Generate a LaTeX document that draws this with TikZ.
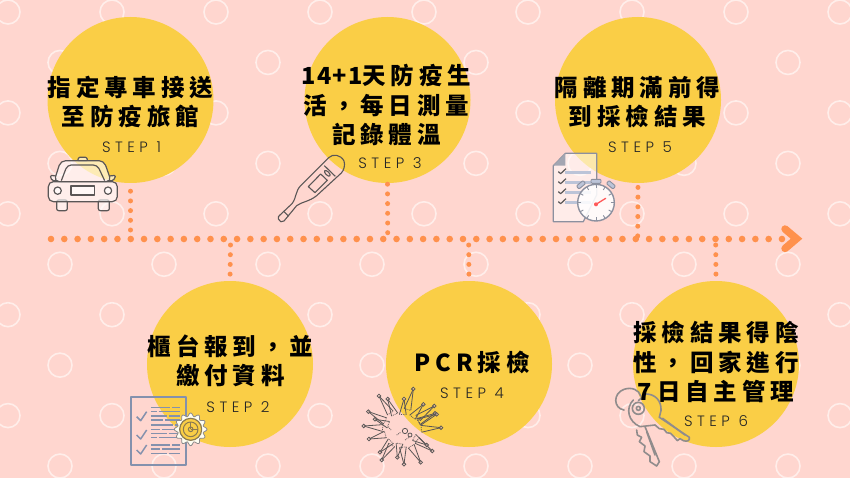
\documentclass[tikz,border=0pt]{standalone}
\usepackage{fontspec}
\usetikzlibrary{calc}
\newfontfamily\cjk[LetterSpace=21]{Noto Sans CJK TC Black}
\newfontfamily\cjkl[LetterSpace=5]{Noto Sans CJK TC Black}
\newfontfamily\stepf[LetterSpace=30]{Poppins Light}
\definecolor{bgc}{HTML}{FFD6CF}
\definecolor{ringc}{HTML}{FFEEEA}
\definecolor{yel}{HTML}{FACE46}
\definecolor{org}{HTML}{FF914D}
\definecolor{ink}{HTML}{5A5656}
\definecolor{slate}{HTML}{8491AD}
\definecolor{steel}{HTML}{8C909F}
\definecolor{barc}{HTML}{BCC4D8}
\definecolor{keyc}{HTML}{908C8C}
\tikzset{
 x=1pt,y=-1pt,
 ring/.style={draw=ringc,line width=1.6pt},
 disc/.style={circle,fill=yel,minimum size=166pt,inner sep=0pt},
 htl/.style={org,line width=6.6pt,line cap=round,dash pattern=on 0pt off 13.29pt},
 vtl/.style={org,line width=5pt,line cap=round,dash pattern=on 0pt off 9.7pt},
 title/.style={font=\cjk\fontsize{23.5pt}{29.2pt}\selectfont,align=center,inner sep=0pt,text=black},
 steplab/.style={font=\stepf\fontsize{15pt}{17pt}\selectfont,inner sep=0pt,text=black!85},
 zoomed/.style={shift={#1},x=0.3333pt,y=-0.3333pt},
 glass/.style={fill=white,fill opacity=.6},
}
\begin{document}
\begin{tikzpicture}
\useasboundingbox (0,0) rectangle (850,478);
\fill[bgc] (0,0) rectangle (850,478);
% background rings
\foreach \r in {0,2,4,6,8}{\foreach \c in {0,...,8}{\draw[ring] ({8+104*\c},{12+50.45*\r}) circle (12);}}
\foreach \r in {1,3,5,7,9}{\foreach \c in {0,...,7}{\draw[ring] ({60+104*\c},{12+50.45*\r}) circle (12);}}
% timeline anchors
\coordinate (tlS) at (51,239);
\coordinate (tlE) at (782,239);
\coordinate (a1) at (130.5,230);
\coordinate (a3) at (387.7,232.7);
\coordinate (a5) at (637.7,235.9);
\coordinate (a2) at (230.5,245);
\coordinate (a4) at (468.7,245);
\coordinate (a6) at (715.7,245);
\coordinate (arT) at (785,229);
\coordinate (arM) at (796.5,238.7);
\coordinate (arB) at (785,248.5);
% discs
\node[disc] (s1) at (130.5,100) {};
\node[disc] (s3) at (387.5,100) {};
\node[disc] (s5) at (638,100) {};
\node[disc] (s2) at (230,364) {};
\node[disc] (s4) at (469,364) {};
\node[disc] (s6) at (716,364) {};
% connectors
\draw[htl] (tlS) -- (tlE);
\draw[vtl] (a1) -- (s1.south);
\draw[vtl] (a3) -- (s3.south);
\draw[vtl] (a5) -- (s5.south);
\draw[vtl] (a2) -- (s2.north);
\draw[vtl] (a4) -- (s4.north);
\draw[vtl] (a6) -- (s6.north);
\draw[org,line width=7.5pt,line cap=round,line join=miter] (arT) -- (arM) -- (arB);
% car
\begin{scope}[zoomed={(30,140)},draw=ink,line width=1.2pt,line join=round]
\draw[glass,rounded corners=1pt] (143,62) -- (146,52) -- (170,52) -- (173,62) -- cycle;
\draw[glass,rounded corners=1.5pt] (78,108) -- (60,106) -- (66,122) -- (85,122);
\draw[glass,rounded corners=1.5pt] (238,108) -- (258,106) -- (250,122) -- (232,122);
\draw[glass,rounded corners=5pt] (72,125) -- (92,62) -- (222,62) -- (244,125) -- cycle;
\draw[rounded corners=4pt] (94,122) -- (112,75) -- (202,75) -- (224,122);
\draw[glass,rounded corners=2pt] (80,180) rectangle (112,212);
\draw[glass,rounded corners=2pt] (205,180) rectangle (238,212);
\draw[glass,rounded corners=5pt] (55,125) rectangle (262,185);
\draw[glass] (83,152) circle (11);
\draw[glass] (234,152) circle (11);
\draw[glass] (123,138) rectangle (193,165);
\end{scope}
% thermometer
\begin{scope}[zoomed={(270,145)},draw=ink,line width=1.1pt,line join=round]
\draw (176,38) .. controls (188,26) and (212,28) .. (222,48) .. controls (226,60) and (222,76) .. (214,84) -- (140,152) .. controls (118,170) and (96,170) .. (80,182) -- (42,228) .. controls (36,234) and (28,230) .. (25,222) .. controls (24,216) and (26,212) .. (30,210) -- (66,176) .. controls (80,158) and (76,138) .. (92,122) -- cycle;
\draw (115,125) -- (152,87) -- (172,106) -- (135,143) -- cycle;
\draw[rotate around={-45:(172,85)}] (172,85) ellipse (11 and 5);
\draw (163,62) -- (196,94);
\draw (42,200) -- (56,214);
\end{scope}
% checklist and stopwatch
\begin{scope}[zoomed={(540,145)},line join=round]
\draw[steel,line width=1.2pt,fill=white,fill opacity=.55] (40,62) -- (76,25) -- (170,25) -- (170,150) -- (130,230) -- (40,230) -- cycle;
\fill[steel!80] (40,62) -- (76,25) -- (76,62) -- cycle;
\foreach \y in {83,113,143,173}{
 \draw[barc,line width=3pt] (75,\y) -- (152,\y);
 \draw[ink,line width=1.2pt] (55,\y-3) -- (62,\y+3) -- (78,\y-12);
}
\begin{scope}[shift={(168,173)}]
\draw[steel,fill=barc,line width=.9pt,rounded corners=1pt] (-15,-70) rectangle (15,-58);
\draw[steel,line width=1.5pt] (0,-58) -- (0,-50);
\draw[steel,fill=barc,line width=.9pt,rotate=-40,rounded corners=1pt] (-13,-76) rectangle (13,-64);
\draw[steel,fill=barc,line width=.9pt,rotate=40,rounded corners=1pt] (-13,-76) rectangle (13,-64);
\draw[steel,line width=1.4pt,fill=white,fill opacity=.88] (0,0) circle (55);
\foreach \a in {0,30,...,330}{\draw[steel,line width=.9pt] (\a:44) -- (\a:54);}
\draw[red!65!white,line width=1.3pt,line cap=round] (0,5) -- (29,-13);
\fill[red!65!white] (0,5) circle (6);
\end{scope}
\end{scope}
% document and gear
\begin{scope}[zoomed={(120,385)},line join=round]
\draw[slate,line width=1.7pt] (33,35) rectangle (198,240);
\foreach \y in {95,150,195}{\draw[slate,line width=1.5pt] (50,\y) -- (62,\y+12) -- (80,\y-15);}
\foreach \y/\m in {68/150,80/110,93/140,105/130,120/160,133/120,146/140,158/110,180/150,192/120,205/140}{
 \draw[slate,line width=1.4pt] (93,\y) -- (\m,\y);
 \draw[slate,line width=1.4pt] (\m+6,\y) -- (180,\y);
}
\begin{scope}[shift={(212,133)}]
\draw[ink!70,line width=.8pt,fill=white!95!yellow] plot[samples=121,domain=0:360,variable=\t] (\t:{44+5*cos(12*\t)}) -- cycle;
\draw[ink!70!yel,line width=1.2pt,fill=yel] (0,0) circle (33);
\draw[ink!70!yel,line width=1pt] (0,0) circle (22);
\draw[ink!70!yel,line width=1pt] (0,0) circle (7);
\draw[ink!70!yel,line width=1pt] (0,0) -- (0,-22) (0,0) -- (22,0);
\end{scope}
\end{scope}
% virus
\begin{scope}[zoomed={(355,385)},draw=ink,line width=.8pt]
\coordinate (vc) at (140,135);
\foreach \px/\py in {175/12,147/42,98/42,72/33,40/80,26/123,42/162,75/202,80/225,127/217,147/238,197/232,232/198,258/128,240/85,238/63,205/58,245/88,60/103,215/180}{
 \coordinate (vt) at (\px,\py);
 \coordinate (vb) at ($(vc)!.5!(vt)$);
 \draw (vt) -- ($(vb)!3.4pt!90:(vt)$);
 \draw (vt) -- ($(vb)!3.4pt!-90:(vt)$);
 \draw[densely dotted] ($(vb)!3.6pt!90:(vt)$) -- ($(vb)!3.6pt!-90:(vt)$);
 \draw[fill=bgc,fill opacity=.5] (vt) circle (5.5);
}
\draw (150,138) circle (8);
\draw (165,150) circle (6);
\draw[densely dotted] (125,150) -- (137,142) (100,125) -- (108,135) (150,165) -- (165,155);
\end{scope}
% keys
\begin{scope}[zoomed={(600,380)},draw=keyc,line width=1.6pt,line join=round,line cap=round]
\draw (72,90) .. controls (40,85) and (38,40) .. (72,28) .. controls (95,20) and (118,30) .. (122,48);
\draw (115,85) circle (18);
\draw (115,85) circle (6);
\draw (115,62) -- (138,42) .. controls (165,42) and (185,62) .. (183,92) -- (178,112);
\draw (100,60) .. controls (75,85) and (85,125) .. (120,140) -- (165,135);
\draw (178,112) -- (268,172) .. controls (270,182) and (262,186) .. (250,182) -- (240,176) -- (232,182) -- (220,168) -- (212,160) -- (200,158) -- (192,148) -- (178,146) -- (165,135);
\draw (188,115) -- (255,165);
\draw (110,150) -- (112,165) -- (125,172) -- (118,185) -- (135,198) -- (132,215) -- (150,228) -- (150,245) -- (170,258) -- (178,245) -- (135,140);
\draw (140,155) -- (165,225);
\end{scope}
% titles
\node[title] (t1) at (130.5,102) {指定專車接送\\至防疫旅館};
\node[steplab] (l1) at (131.5,147) {STEP 1};
\node[title] (t3) at (386.5,105) {{\cjkl 14+1}天防疫生\\活，每日測量\\記錄體溫};
\node[steplab] (l3) at (390,163) {STEP 3};
\node[title] (t5) at (637.5,102) {隔離期滿前得\\到採檢結果};
\node[steplab] (l5) at (640,147) {STEP 5};
\node[title] (t2) at (230.5,361) {櫃台報到，並\\繳付資料};
\node[steplab] (l2) at (238,407) {STEP 2};
\node[title] (t4) at (472,362) {PCR採檢};
\node[steplab] (l4) at (472,393) {STEP 4};
\node[title] (t6) at (716,362) {採檢結果得陰\\性，回家進行\\7日自主管理};
\node[steplab] (l6) at (716,421) {STEP 6};
\end{tikzpicture}
\end{document}
